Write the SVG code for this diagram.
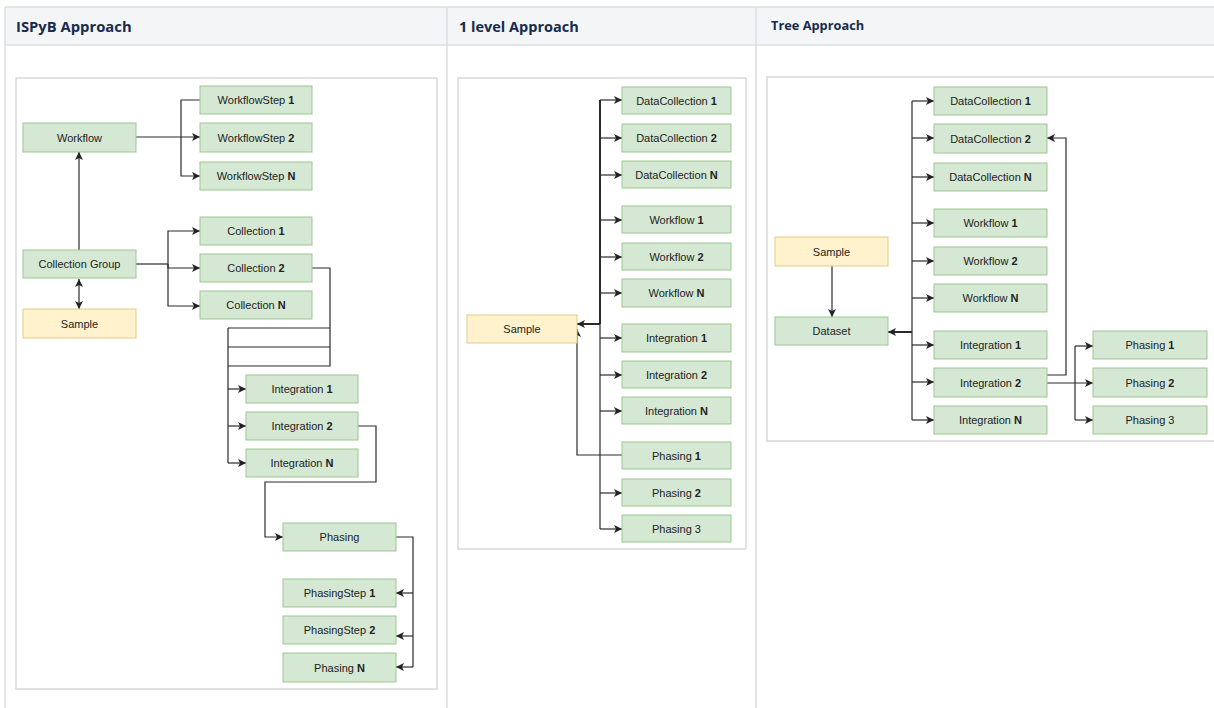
<svg xmlns="http://www.w3.org/2000/svg" width="1214" height="708" viewBox="0 0 1214 708">
<defs>
<marker id="arr" markerUnits="userSpaceOnUse" markerWidth="9" markerHeight="8" refX="8" refY="4" orient="auto-start-reverse">
<path d="M0,0 L8,4 L0,8 L2,4 z" fill="#222"/>
</marker>
</defs>
<style>
.hdr{font-family:"Open Sans","Noto Sans",sans-serif;font-weight:bold;fill:#172b4d}
.n rect{fill:#d5e8d4;stroke:#9cc68f;stroke-width:1}
.s rect{fill:#fff2cc;stroke:#e3cc85;stroke-width:1}
.n text,.s text{font-family:"Liberation Sans",Arial,sans-serif;font-size:11px;fill:#222;text-anchor:middle}
.b{font-weight:bold}
.frame{fill:#fff;stroke:#d9d9d9;stroke-width:1.5}
#connectors path{fill:none;stroke:#2a2a2a;stroke-width:1.2}
.a{marker-end:url(#arr)}
.th{stroke-width:2 !important}
</style>
<rect width="1214" height="708" fill="#fff"/>
<g id="table">
<rect x="5" y="7" width="1215" height="38" fill="#f4f5f7"/>
<path d="M5,7 H1214 M5,45 H1214 M5,7 V708 M447,7 V708 M756,7 V708" stroke="#dcdfe4" stroke-width="1.5" fill="none"/>
<text class="hdr" x="16" y="32" font-size="14.8">ISPyB Approach</text>
<text class="hdr" x="459" y="32" font-size="14.5">1 level Approach</text>
<text class="hdr" x="771" y="30" font-size="12.8">Tree Approach</text>
</g>
<rect class="frame" x="16" y="78" width="421" height="611"/>
<rect class="frame" x="458" y="78" width="288" height="471"/>
<rect class="frame" x="767" y="77" width="460" height="364"/>

<g id="connectors">
<path class="a" d="M136,137 H200"/>
<path d="M181,137 V100 H200"/>
<path class="a" d="M181,137 V176 H200"/>
<path class="a" d="M79,250 V152"/>
<path class="a" d="M79,279 V309" marker-start="url(#arr)"/>
<path d="M136,264 H168"/>
<path class="a" d="M168,264 V231 H200"/>
<path class="a" d="M168,264 V268 H200"/>
<path class="a" d="M168,264 V306 H200"/>
<path d="M312,268 H330 V366 H228 M330,328 H228 M330,347 H228 M228,328 V463"/>
<path class="a" d="M228,389 H246"/>
<path class="a" d="M228,426 H246"/>
<path class="a" d="M228,463 H246"/>
<path class="a" d="M358,426 H376 V482 H265 V537 H283"/>
<path d="M396,537 H413 V667"/>
<path class="a" d="M413,593 H396"/>
<path class="a" d="M413,636 H396"/>
<path class="a" d="M413,667 H396"/>
<path d="M600,100 V529"/>
<path class="th" d="M600,100 V324"/>
<path class="a" d="M600,100 H622"/>
<path class="a" d="M600,138 H622"/>
<path class="a" d="M600,175 H622"/>
<path class="a" d="M600,220 H622"/>
<path class="a" d="M600,257 H622"/>
<path class="a" d="M600,293 H622"/>
<path class="a" d="M600,338 H622"/>
<path class="a" d="M600,375 H622"/>
<path class="a" d="M600,411 H622"/>
<path class="a" d="M600,493 H622"/>
<path class="a" d="M600,529 H622"/>
<path class="a th" d="M600,324 H577"/>
<path class="a" d="M622,455 H577 V329"/>
<path d="M912,101 V420"/>
<path class="a" d="M912,101 H934"/>
<path class="a" d="M912,138 H934"/>
<path class="a" d="M912,177 H934"/>
<path class="a" d="M912,223 H934"/>
<path class="a" d="M912,261 H934"/>
<path class="a" d="M912,298 H934"/>
<path class="a" d="M912,345 H934"/>
<path class="a" d="M912,382 H934"/>
<path class="a" d="M912,420 H934"/>
<path class="a th" d="M912,332 H888"/>
<path class="a" d="M832,266 V317"/>
<path class="a" d="M1047,375 H1066 V138 H1047"/>
<path class="a" d="M1047,383 H1093"/>
<path d="M1075,346 V420"/>
<path class="a" d="M1075,346 H1093"/>
<path class="a" d="M1075,420 H1093"/>
</g>

<g id="l-wf" class="n"><rect x="23" y="123" width="113" height="29"/><text x="79.5" y="141.5">Workflow</text></g>
<g id="l-ws1" class="n"><rect x="200" y="86" width="112" height="28"/><text x="256" y="104">WorkflowStep <tspan class="b">1</tspan></text></g>
<g id="l-ws2" class="n"><rect x="200" y="123" width="112" height="29"/><text x="256" y="141.5">WorkflowStep <tspan class="b">2</tspan></text></g>
<g id="l-wsn" class="n"><rect x="200" y="162" width="112" height="28"/><text x="256" y="180">WorkflowStep <tspan class="b">N</tspan></text></g>
<g id="l-cg" class="n"><rect x="23" y="250" width="113" height="28"/><text x="79.5" y="268">Collection Group</text></g>
<g id="l-sample" class="s"><rect x="23" y="309" width="113" height="29"/><text x="79.5" y="327.5">Sample</text></g>
<g id="l-c1" class="n"><rect x="200" y="217" width="112" height="28"/><text x="256" y="235">Collection <tspan class="b">1</tspan></text></g>
<g id="l-c2" class="n"><rect x="200" y="254" width="112" height="28"/><text x="256" y="272">Collection <tspan class="b">2</tspan></text></g>
<g id="l-cn" class="n"><rect x="200" y="291" width="112" height="28"/><text x="256" y="309">Collection <tspan class="b">N</tspan></text></g>
<g id="l-i1" class="n"><rect x="246" y="375" width="112" height="28"/><text x="302" y="393">Integration <tspan class="b">1</tspan></text></g>
<g id="l-i2" class="n"><rect x="246" y="412" width="112" height="28"/><text x="302" y="430">Integration <tspan class="b">2</tspan></text></g>
<g id="l-in" class="n"><rect x="246" y="449" width="112" height="28"/><text x="302" y="467">Integration <tspan class="b">N</tspan></text></g>
<g id="l-ph" class="n"><rect x="283" y="523" width="113" height="28"/><text x="339.5" y="541">Phasing</text></g>
<g id="l-ps1" class="n"><rect x="283" y="579" width="113" height="28"/><text x="339.5" y="597">PhasingStep <tspan class="b">1</tspan></text></g>
<g id="l-ps2" class="n"><rect x="283" y="616" width="113" height="28"/><text x="339.5" y="634">PhasingStep <tspan class="b">2</tspan></text></g>
<g id="l-psn" class="n"><rect x="283" y="653" width="113" height="29"/><text x="339.5" y="671.5">Phasing <tspan class="b">N</tspan></text></g>

<g id="m-sample" class="s"><rect x="467" y="315" width="110" height="28"/><text x="522" y="333">Sample</text></g>
<g id="m-dc1" class="n"><rect x="622" y="87" width="109" height="27"/><text x="676.5" y="104.5">DataCollection <tspan class="b">1</tspan></text></g>
<g id="m-dc2" class="n"><rect x="622" y="124" width="109" height="28"/><text x="676.5" y="142">DataCollection <tspan class="b">2</tspan></text></g>
<g id="m-dcn" class="n"><rect x="622" y="161" width="109" height="27"/><text x="676.5" y="178.5">DataCollection <tspan class="b">N</tspan></text></g>
<g id="m-w1" class="n"><rect x="622" y="206" width="109" height="27"/><text x="676.5" y="223.5">Workflow <tspan class="b">1</tspan></text></g>
<g id="m-w2" class="n"><rect x="622" y="243" width="109" height="27"/><text x="676.5" y="260.5">Workflow <tspan class="b">2</tspan></text></g>
<g id="m-wn" class="n"><rect x="622" y="279" width="109" height="28"/><text x="676.5" y="297">Workflow <tspan class="b">N</tspan></text></g>
<g id="m-i1" class="n"><rect x="622" y="324" width="109" height="28"/><text x="676.5" y="342">Integration <tspan class="b">1</tspan></text></g>
<g id="m-i2" class="n"><rect x="622" y="361" width="109" height="27"/><text x="676.5" y="378.5">Integration <tspan class="b">2</tspan></text></g>
<g id="m-in" class="n"><rect x="622" y="397" width="109" height="27"/><text x="676.5" y="414.5">Integration <tspan class="b">N</tspan></text></g>
<g id="m-p1" class="n"><rect x="622" y="442" width="109" height="27"/><text x="676.5" y="459.5">Phasing <tspan class="b">1</tspan></text></g>
<g id="m-p2" class="n"><rect x="622" y="479" width="109" height="27"/><text x="676.5" y="496.5">Phasing <tspan class="b">2</tspan></text></g>
<g id="m-p3" class="n"><rect x="622" y="515" width="109" height="27"/><text x="676.5" y="532.5">Phasing 3</text></g>

<g id="r-sample" class="s"><rect x="775" y="237" width="113" height="29"/><text x="831.5" y="255.5">Sample</text></g>
<g id="r-dataset" class="n"><rect x="775" y="317" width="113" height="28"/><text x="831.5" y="335">Dataset</text></g>
<g id="r-dc1" class="n"><rect x="934" y="87" width="113" height="28"/><text x="990.5" y="105">DataCollection <tspan class="b">1</tspan></text></g>
<g id="r-dc2" class="n"><rect x="934" y="124" width="113" height="29"/><text x="990.5" y="142.5">DataCollection <tspan class="b">2</tspan></text></g>
<g id="r-dcn" class="n"><rect x="934" y="163" width="113" height="28"/><text x="990.5" y="181">DataCollection <tspan class="b">N</tspan></text></g>
<g id="r-w1" class="n"><rect x="934" y="209" width="113" height="28"/><text x="990.5" y="227">Workflow <tspan class="b">1</tspan></text></g>
<g id="r-w2" class="n"><rect x="934" y="247" width="113" height="28"/><text x="990.5" y="265">Workflow <tspan class="b">2</tspan></text></g>
<g id="r-wn" class="n"><rect x="934" y="284" width="113" height="28"/><text x="990.5" y="302">Workflow <tspan class="b">N</tspan></text></g>
<g id="r-i1" class="n"><rect x="934" y="331" width="113" height="28"/><text x="990.5" y="349">Integration <tspan class="b">1</tspan></text></g>
<g id="r-i2" class="n"><rect x="934" y="368" width="113" height="29"/><text x="990.5" y="386.5">Integration <tspan class="b">2</tspan></text></g>
<g id="r-in" class="n"><rect x="934" y="406" width="113" height="28"/><text x="990.5" y="424">Integration <tspan class="b">N</tspan></text></g>
<g id="r-p1" class="n"><rect x="1093" y="331" width="114" height="28"/><text x="1150" y="349">Phasing <tspan class="b">1</tspan></text></g>
<g id="r-p2" class="n"><rect x="1093" y="368" width="114" height="29"/><text x="1150" y="386.5">Phasing <tspan class="b">2</tspan></text></g>
<g id="r-p3" class="n"><rect x="1093" y="406" width="114" height="28"/><text x="1150" y="424">Phasing 3</text></g>
</svg>
